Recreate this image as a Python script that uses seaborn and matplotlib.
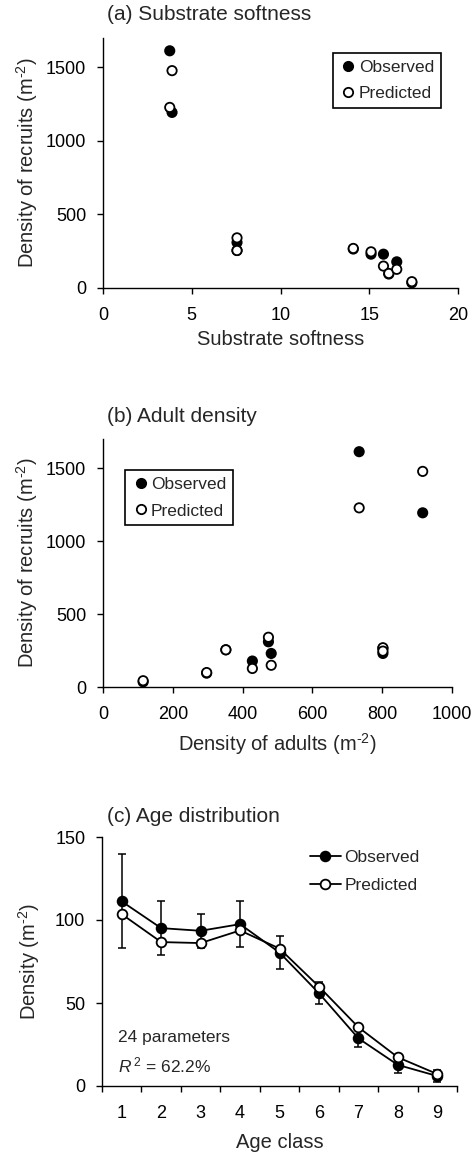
import numpy as np
import pandas as pd
import matplotlib
matplotlib.use("Agg")
import matplotlib.pyplot as plt
import seaborn as sns

# Recruit density per site: substrate softness, adult density, observed and predicted recruits
softness = [3.76, 3.89, 7.55, 7.55, 14.1, 15.1, 15.8, 16.1, 16.55, 17.4]
adults = [734, 916, 474, 352, 802, 802, 482, 297, 428, 115]
recruits_obs = [1613, 1194, 310, 255, 265, 230, 230, 95, 178, 35]
recruits_pred = [1228, 1478, 341, 255, 269, 246, 149, 99, 127, 43]

# Age distribution of the population
age_class = [1, 2, 3, 4, 5, 6, 7, 8, 9]
age_obs = [111.2, 95.1, 93.5, 97.5, 80.4, 55.9, 28.7, 12.7, 6.0]
age_obs_err = [28.3, 16.1, 10.2, 14.0, 9.8, 6.6, 5.4, 4.7, 3.4]
age_pred = [103.5, 86.7, 86.1, 93.7, 82.8, 59.9, 35.4, 17.3, 7.2]

sns.set_style("ticks")
plt.rcParams["font.family"] = ["Liberation Sans", "DejaVu Sans"]
plt.rcParams["mathtext.fontset"] = "custom"
plt.rcParams["mathtext.rm"] = "Liberation Sans"
plt.rcParams["mathtext.it"] = "Liberation Sans:italic"
plt.rcParams["axes.linewidth"] = 1.0
plt.rcParams["xtick.major.width"] = 1.0
plt.rcParams["ytick.major.width"] = 1.0
plt.rcParams["xtick.major.size"] = 4
plt.rcParams["ytick.major.size"] = 4
plt.rcParams["xtick.color"] = "black"
plt.rcParams["ytick.color"] = "black"
plt.rcParams["axes.edgecolor"] = "black"

W, H = 473, 1155
TICK_FS = 13
LEG_FS = 12.5
LABEL_FS = 14.5
TITLE_FS = 15
PER_M2 = r"(m$^{\mathregular{\text{-}2}}$)"

sites = pd.DataFrame({
    "softness": softness * 2,
    "adults": adults * 2,
    "recruits": recruits_obs + recruits_pred,
    "kind": ["Observed"] * len(softness) + ["Predicted"] * len(softness),
})

fig = plt.figure(figsize=(W / 100, H / 100), dpi=100)


def axes_px(left, top, right, bottom):
    return fig.add_axes([left / W, 1 - bottom / H, (right - left) / W, (bottom - top) / H])


def style(ax):
    sns.despine(ax=ax)
    ax.tick_params(axis="x", labelsize=TICK_FS, pad=10, direction="out")
    ax.tick_params(axis="y", labelsize=TICK_FS, pad=8, direction="out")


def scatter_panel(ax, xcol):
    sns.scatterplot(
        data=sites, x=xcol, y="recruits", hue="kind", style="kind",
        hue_order=["Observed", "Predicted"],
        palette={"Observed": "black", "Predicted": "white"},
        markers={"Observed": "o", "Predicted": "o"},
        s=45, edgecolor="black", linewidth=1.3, ax=ax, zorder=3,
    )


def boxed_legend(ax, loc, anchor):
    leg = ax.legend(loc=loc, bbox_to_anchor=anchor, fontsize=LEG_FS, borderaxespad=0,
                    frameon=True, fancybox=False, edgecolor="black", handletextpad=0.1,
                    borderpad=0.4, handlelength=1.0, labelspacing=0.65)
    leg.get_frame().set_linewidth(1.2)
    leg.get_frame().set_alpha(1)


# (a) recruits vs substrate softness
ax_a = axes_px(103, 38, 458, 288)
scatter_panel(ax_a, "softness")
ax_a.set_xlim(0, 20)
ax_a.set_ylim(0, 1700)
ax_a.set_xticks([0, 5, 10, 15, 20])
ax_a.set_yticks([0, 500, 1000, 1500])
ax_a.set_xlabel("Substrate softness", fontsize=LABEL_FS)
ax_a.set_ylabel("Density of recruits " + PER_M2, fontsize=LABEL_FS)
style(ax_a)
boxed_legend(ax_a, "upper right", (0.952, 0.941))
ax_a.xaxis.set_label_coords(0.5, -0.168)
ax_a.yaxis.set_label_coords(-0.178, 0.5)
fig.text(107 / W, 1 - 15 / H, "(a) Substrate softness", fontsize=TITLE_FS, va="center", ha="left")

# (b) recruits vs adult density
ax_b = axes_px(103, 439, 452, 687)
scatter_panel(ax_b, "adults")
ax_b.set_xlim(0, 1000)
ax_b.set_ylim(0, 1700)
ax_b.set_xticks([0, 200, 400, 600, 800, 1000])
ax_b.set_yticks([0, 500, 1000, 1500])
ax_b.set_xlabel("Density of adults " + PER_M2, fontsize=LABEL_FS)
ax_b.set_ylabel("Density of recruits " + PER_M2, fontsize=LABEL_FS)
style(ax_b)
boxed_legend(ax_b, "upper left", (0.063, 0.875))
ax_b.xaxis.set_label_coords(0.5, -0.177)
ax_b.yaxis.set_label_coords(-0.181, 0.5)
fig.text(107 / W, 1 - 416 / H, "(b) Adult density", fontsize=TITLE_FS, va="center", ha="left")

# (c) age distribution, observed means with error bars and model predictions
ax_c = axes_px(102, 837, 457, 1086)
ax_c.errorbar(age_class, age_obs, yerr=age_obs_err, fmt="none", ecolor="black",
              elinewidth=1.1, capsize=3, capthick=1.1, zorder=1)
for values, face, name in [(age_obs, "black", "Observed"), (age_pred, "white", "Predicted")]:
    sns.lineplot(
        x=age_class, y=values, color="black", marker="o", markersize=7,
        markerfacecolor=face, markeredgecolor="black", markeredgewidth=1.3,
        linewidth=1.3, label=name, ax=ax_c, zorder=3,
    )
ax_c.set_xlim(0.5, 9.5)
ax_c.set_ylim(0, 150)
ax_c.set_xticks(np.arange(0.5, 10, 1.0))
ax_c.set_xticklabels([])
ax_c.set_xticks(age_class, minor=True)
ax_c.set_xticklabels([str(a) for a in age_class], minor=True)
ax_c.set_yticks([0, 50, 100, 150])
ax_c.set_xlabel("Age class", fontsize=LABEL_FS)
ax_c.set_ylabel("Density " + PER_M2, fontsize=LABEL_FS)
style(ax_c)
ax_c.tick_params(axis="x", which="minor", length=0, labelsize=TICK_FS, pad=14)
ax_c.legend(loc="upper left", bbox_to_anchor=(0.566, 0.976), borderaxespad=0, fontsize=LEG_FS,
            frameon=False, handlelength=1.8, handletextpad=0.2, labelspacing=0.75)
ax_c.text(0.045, 0.193, "24 parameters", transform=ax_c.transAxes, fontsize=LEG_FS,
          ha="left", va="center")
ax_c.text(0.045, 0.084, r"$R^{\,2}$ = 62.2%", transform=ax_c.transAxes, fontsize=LEG_FS,
          ha="left", va="center")
ax_c.xaxis.set_label_coords(0.5, -0.189)
ax_c.yaxis.set_label_coords(-0.168, 0.5)
fig.text(107 / W, 1 - 817 / H, "(c) Age distribution", fontsize=TITLE_FS, va="center", ha="left")

fig.savefig("out.png", dpi=100, facecolor="white")
